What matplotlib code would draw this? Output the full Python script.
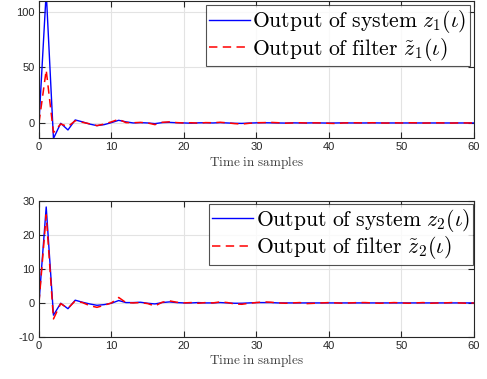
import matplotlib
matplotlib.use('Agg')
import matplotlib.pyplot as plt
import numpy as np

plt.rcParams['mathtext.fontset'] = 'cm'
plt.rcParams['font.family'] = ['Liberation Sans', 'DejaVu Sans']
plt.rcParams['axes.unicode_minus'] = False

t = np.arange(0, 61)

# output 1: system (blue) and filter (red)
z1 = [0, 118, -14, -0.3, -6.3, 2.7, 1.0, -1.0, -2.4, -1.5,
      0.3, 2.4, 1.0, 0.0, 0.3, 0.0, -0.6, 0.3, 0.5, 0.2,
      0.0, -0.2, 0.1, 0.2, 0.0, 0.3, 0.0, -0.3, -0.4, -0.1,
      0.1, 0.2, 0.1, 0.0, -0.1, 0.1, 0.0, 0.0, 0.1, 0.0,
      -0.1, 0.0, 0.1, 0.0, 0.0, 0.0, 0.1, 0.0, 0.0, 0.0,
      0.0, 0.0, 0.0, 0.0, 0.0, 0.0, 0.0, 0.0, 0.0, 0.0, 0.0]
z1f = [0, 47.6, -8.7, -0.9, -3.3, 2.0, 0.6, -0.8, -2.4, -1.0,
       1.0, 3.3, 0.3, 0.2, 0.5, 0.0, -1.5, 0.6, 1.0, 0.3,
       0.0, 0.2, -0.2, 0.3, 0.2, 0.6, 0.1, -0.6, -1.0, -0.3,
       0.2, 0.3, 0.5, 0.2, -0.2, 0.0, 0.2, -0.1, 0.1, 0.0,
       -0.3, -0.5, 0.0, 0.2, 0.1, 0.0, 0.2, 0.0, -0.1, 0.1,
       0.0, 0.2, 0.1, -0.1, 0.0, 0.1, 0.0, -0.1, 0.1, 0.0, 0.0]

# output 2: system (blue) and filter (red)
z2 = [0, 28.2, -3.6, -0.1, -1.7, 0.8, 0.2, -0.3, -0.7, -0.5,
      -0.1, 0.7, 0.1, 0.1, 0.2, -0.1, -0.3, 0.1, 0.3, 0.1,
      0.0, 0.0, 0.1, 0.0, 0.0, 0.1, 0.0, -0.1, -0.1, 0.0,
      0.1, 0.1, 0.1, 0.0, 0.0, 0.0, 0.0, 0.0, 0.0, 0.0,
      0.0, 0.0, 0.0, 0.0, 0.0, 0.0, 0.0, 0.0, 0.0, 0.0,
      0.0, 0.0, 0.0, 0.0, 0.0, 0.0, 0.0, 0.0, 0.0, 0.0, 0.0]
z2f = [0, 25.9, -4.7, -0.2, -1.6, 0.6, 0.1, -0.8, -1.3, -0.7,
       0.0, 1.6, 0.1, 0.0, 0.1, -0.2, -0.9, 0.2, 0.6, 0.2,
       0.0, 0.1, -0.1, 0.1, 0.0, 0.3, 0.1, -0.3, -0.4, -0.1,
       0.1, 0.3, 0.2, 0.0, -0.1, 0.0, 0.1, -0.2, -0.1, 0.0,
       0.1, 0.0, -0.1, 0.0, 0.1, 0.1, 0.0, -0.1, 0.0, 0.1,
       0.0, -0.1, 0.0, 0.1, -0.1, 0.0, 0.0, 0.1, 0.0, -0.1, 0.0]

labels1 = [r'$\mathrm{Output\ of\ system}\ z_1(\iota)$',
           r'$\mathrm{Output\ of\ filter}\ \tilde{z}_1(\iota)$']
labels2 = [r'$\mathrm{Output\ of\ system}\ z_2(\iota)$',
           r'$\mathrm{Output\ of\ filter}\ \tilde{z}_2(\iota)$']

fig = plt.figure(figsize=(4.87, 3.79), dpi=100)
ax1 = fig.add_axes([0.080, 0.636, 0.893, 0.362])
ax2 = fig.add_axes([0.080, 0.111, 0.893, 0.359])

def style(ax, ylim, yticks):
    ax.set_xlim(0, 60)
    ax.set_ylim(*ylim)
    ax.set_xticks([0, 10, 20, 30, 40, 50, 60])
    ax.set_yticks(yticks)
    ax.grid(True, color='#e3e3e3', linewidth=0.8)
    ax.set_axisbelow(True)
    ax.tick_params(direction='in', length=4, width=0.8, labelsize=8,
                   colors='#262626', top=True, right=True, pad=3)
    for s in ax.spines.values():
        s.set_color('#262626')
        s.set_linewidth(0.8)
    ax.set_xlabel(r'$\mathrm{Time\ in\ samples}$', fontsize=9.5,
                  color='#404040', labelpad=1)

for ax, a, b, lab, ylim, yt, anchor in [
        (ax1, z1, z1f, labels1, (-13.5, 110), [0, 50, 100], (0.99, 0.97)),
        (ax2, z2, z2f, labels2, (-10, 30), [-10, 0, 10, 20, 30], (0.998, 0.98))]:
    ax.plot(t, a, color='#0000ff', linewidth=1.0, label=lab[0])
    ax.plot(t, b, color='#ff0000', linewidth=1.1, linestyle='--',
            dashes=(5.5, 3.5), label=lab[1])
    style(ax, ylim, yt)
    leg = ax.legend(loc='upper right', bbox_to_anchor=anchor, fontsize=15.6,
                    frameon=True, fancybox=False, edgecolor='#262626',
                    handlelength=1.9, handletextpad=0.1, borderpad=0.15,
                    labelspacing=0.02, borderaxespad=0.0)
    leg.get_frame().set_linewidth(0.8)

plt.savefig('out.png', dpi=100)
